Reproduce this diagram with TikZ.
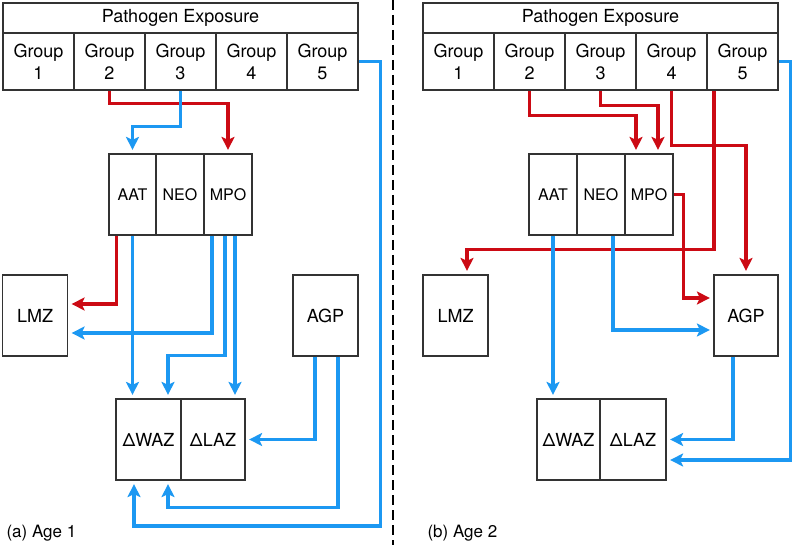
\documentclass[tikz,border=0pt]{standalone}
\usepackage{fontspec}
\setmainfont{TeX Gyre Heros}
\usetikzlibrary{arrows.meta}
\definecolor{linkred}{HTML}{CC0A14}
\definecolor{linkblue}{HTML}{1C98F2}
\definecolor{boxline}{HTML}{333333}

\begin{document}
\begin{tikzpicture}[x=1pt,y=-1pt,
    cell/.style={draw=boxline, line width=1.2pt, inner sep=0pt, align=center,
      font=\fontsize{18}{22}\selectfont},
    smallcell/.style={cell, font=\fontsize{16}{19}\selectfont,
      minimum width=48pt, minimum height=81pt},
    groupcell/.style={cell, minimum width=71pt, minimum height=57pt},
    sidebox/.style={cell, minimum width=65pt, minimum height=81pt},
    outbox/.style={cell, minimum width=65pt, minimum height=81pt},
    redlink/.style={draw=linkred, line width=3.5pt,
      -{Stealth[length=13pt,width=13pt,inset=3pt]}, shorten >=3.5pt},
    bluelink/.style={draw=linkblue, line width=3.5pt,
      -{Stealth[length=13pt,width=13pt,inset=3pt]}, shorten >=3.5pt},
    caption/.style={anchor=base west, font=\fontsize{17}{20}\selectfont}]
    \useasboundingbox (0,0) rectangle (793,545);
    % Boxes (a):
    \node[cell, minimum width=355pt, minimum height=30pt] (ape) at (180.5,18) {Pathogen Exposure};
    \foreach \i in {1,...,5}
      \node[groupcell] (ag\i) at ({3+71*(\i-0.5)},61.5) {Group\\\i};
    \node[smallcell, minimum width=47pt] (aaat) at (132.5,194.5) {AAT};
    \node[smallcell] (aneo) at (180,194.5) {NEO};
    \node[smallcell] (ampo) at (228,194.5) {MPO};
    \node[sidebox] (almz) at (35,315.5) {LMZ};
    \node[sidebox] (aagp) at (325.5,315.5) {AGP};
    \node[outbox] (adwaz) at (148.5,439.5) {ΔWAZ};
    \node[outbox, minimum width=64pt] (adlaz) at (213,439.5) {ΔLAZ};
    % Boxes (b):
    \node[cell, minimum width=355pt, minimum height=30pt] (bpe) at (600.5,18) {Pathogen Exposure};
    \foreach \i in {1,...,5}
      \node[groupcell] (bg\i) at ({423+71*(\i-0.5)},61.5) {Group\\\i};
    \node[smallcell] (baat) at (553,194.5) {AAT};
    \node[smallcell] (bneo) at (601,194.5) {NEO};
    \node[smallcell] (bmpo) at (649,194.5) {MPO};
    \node[sidebox] (blmz) at (455.5,315.5) {LMZ};
    \node[sidebox, minimum width=64pt] (bagp) at (746,315.5) {AGP};
    \node[outbox, minimum width=63pt] (bdwaz) at (568.5,439.5) {ΔWAZ};
    \node[outbox, minimum width=66pt] (bdlaz) at (633,439.5) {ΔLAZ};
    % Links (a):
    \draw[redlink] (ag2.south) -- ++(0,13) -| (ampo.north);
    \draw[bluelink] (ag3.south) -- ++(0,36) -| (aaat.north);
    \draw[redlink] ([xshift=-16pt]aaat.south) |- ([yshift=11.5pt]almz.east);
    \draw[bluelink] ([xshift=-16pt]ampo.south) |- ([yshift=-17.5pt]almz.east);
    \draw[bluelink] (aaat.south) -- (aaat.south |- adwaz.north);
    \draw[bluelink] ([xshift=-3pt]ampo.south) -- ++(0,120) -| ([xshift=19.5pt]adwaz.north);
    \draw[bluelink] ([xshift=7pt]ampo.south) -- ([xshift=7pt]ampo.south |- adlaz.north);
    \draw[bluelink] ([xshift=-10.5pt]aagp.south) |- (adlaz.east);
    \draw[bluelink] ([xshift=12.5pt]aagp.south) -- ++(0,151) -| ([xshift=19.5pt]adwaz.south);
    \draw[bluelink] (ag5.east) -- ++(22,0) -- ++(0,464.5) -| ([xshift=-14.5pt]adwaz.south);
    % Links (b):
    \draw[redlink] (bg2.south) -- ++(0,25) -| ([xshift=-13pt]bmpo.north);
    \draw[redlink] (bg3.south) -- ++(0,15) -| ([xshift=9pt]bmpo.north);
    \draw[redlink] (bg4.south) -- ++(0,55) -| (bagp.north);
    \draw[redlink] ([xshift=-28.5pt]bg5.south) -- ++(0,159) -| ([xshift=11.5pt]blmz.north);
    \draw[redlink] (bmpo.east) -- ++(10,0) |- ([yshift=17.5pt]bagp.west);
    \draw[bluelink] ([xshift=12pt]bneo.south) |- ([yshift=-14.5pt]bagp.west);
    \draw[bluelink] (baat.south) -- (baat.south |- bdwaz.north);
    \draw[bluelink] ([xshift=-13pt]bagp.south) |- (bdlaz.east);
    \draw[bluelink] (bg5.east) -- ++(12,0) |- ([yshift=-20.5pt]bdlaz.east);
    % Divider:
    \coordinate (top) at (393,0);
    \coordinate (bottom) at (393,545);
    \draw[line width=2pt, dash pattern=on 10pt off 5pt] (top) -- (bottom);
    % Labels:
    \node[caption] (capa) at (3,537) {(a) Age 1};
    \node[caption] (capb) at (424,537) {(b) Age 2};
  \end{tikzpicture}
\end{document}
